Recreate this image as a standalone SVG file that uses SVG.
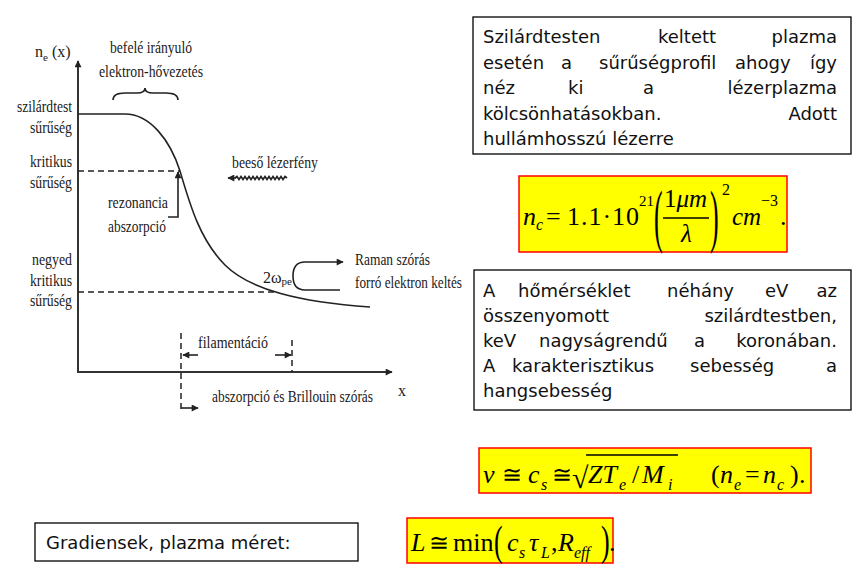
<svg xmlns="http://www.w3.org/2000/svg" width="868" height="581" viewBox="0 0 868 581">
<defs>
<style>
.lbl{font-family:"Liberation Serif","Times New Roman",serif;font-size:16px;fill:#1a1a1a}
.body{font-family:"DejaVu Sans",Verdana,sans-serif;font-size:18px;fill:#111}
.m{font-family:"Liberation Serif","DejaVu Serif",serif;fill:#000}
.i{font-style:italic}
.box{fill:#fff;stroke:#000;stroke-width:1.3}
.ybox{fill:#ffff00;stroke:#ff0000;stroke-width:1.5}
.ln{fill:none;stroke:#222;stroke-width:1.6}
.ax{fill:none;stroke:#333;stroke-width:2}
.dash{fill:none;stroke:#222;stroke-width:1.5;stroke-dasharray:6,4}
</style>
<marker id="ah" viewBox="0 0 10 10" refX="9" refY="5" markerWidth="8" markerHeight="7" orient="auto" markerUnits="userSpaceOnUse">
<path d="M0,0 L10,5 L0,10 z" fill="#222"/>
</marker>
</defs>
<rect width="868" height="581" fill="#fff"/>

<g id="connectors">
<line class="ax" x1="78" y1="373" x2="78" y2="61" marker-end="url(#ah)"/>
<line class="ax" x1="78" y1="372" x2="392" y2="372" marker-end="url(#ah)"/>
<path class="ln" stroke-width="1.8" d="M78,114 H125 C150,114 170,140 180,171 C190,205 200,240 225,265 C250,290 300,302 370,307"/>
<line class="dash" x1="78" y1="171" x2="180" y2="171"/>
<line class="dash" x1="78" y1="292" x2="274" y2="292"/>
<path class="ln" d="M168,217 H178 V172" marker-end="url(#ah)"/>
<path class="ln" stroke-width="1.3" d="M113,100 Q113,93 125,93 L137,93 Q145,93 145,88 Q145,93 153,93 L166,93 Q178,93 178,100"/>
<polyline class="ln" stroke-width="1.2" points="287,178 285,176.5 283,179.5 281,176.5 279,179.5 277,176.5 275,179.5 273,176.5 271,179.5 269,176.5 267,179.5 265,176.5 263,179.5 261,176.5 259,179.5 257,176.5 255,179.5 253,176.5 251,179.5 249,176.5 247,179.5 245,176.5 243,179.5 241,176.5 239,179.5 237,176.5 235,178"/>
<line class="ln" stroke-width="1.2" x1="236" y1="178" x2="228" y2="178" marker-end="url(#ah)"/>
<path class="ln" stroke-width="1.4" d="M340,290 L305,290 Q293,290 293,276 Q293,262 305,262 L343,262" marker-end="url(#ah)"/>
<line class="dash" stroke-width="1.3" x1="181" y1="333" x2="181" y2="413"/>
<line class="dash" stroke-width="1.3" x1="292" y1="340" x2="292" y2="372"/>
<line class="ln" stroke-width="1.3" x1="198" y1="355" x2="183" y2="355" marker-end="url(#ah)"/>
<line class="ln" stroke-width="1.3" x1="275" y1="355" x2="291" y2="355" marker-end="url(#ah)"/>
<line class="ln" stroke-width="1.3" x1="181" y1="408" x2="198" y2="408" marker-end="url(#ah)"/>
</g>

<g id="chart-labels">
<g id="y-axis-label"><text class="lbl" x="35" y="57" font-size="18">n<tspan font-size="11" dy="4">e</tspan><tspan dy="-4"> (x)</tspan></text></g>
<g id="lbl-szilardtest">
<text class="lbl" x="17" y="112" textLength="55" lengthAdjust="spacingAndGlyphs">szilárdtest</text>
<text class="lbl" x="30" y="133" textLength="42" lengthAdjust="spacingAndGlyphs">sűrűség</text>
</g>
<g id="lbl-kritikus">
<text class="lbl" x="30" y="167" textLength="42" lengthAdjust="spacingAndGlyphs">kritikus</text>
<text class="lbl" x="30" y="188" textLength="42" lengthAdjust="spacingAndGlyphs">sűrűség</text>
</g>
<g id="lbl-negyed">
<text class="lbl" x="32" y="265" textLength="40" lengthAdjust="spacingAndGlyphs">negyed</text>
<text class="lbl" x="30" y="286" textLength="42" lengthAdjust="spacingAndGlyphs">kritikus</text>
<text class="lbl" x="30" y="306" textLength="42" lengthAdjust="spacingAndGlyphs">sűrűség</text>
</g>
<g id="lbl-hovezetes">
<text class="lbl" x="110" y="53" textLength="82" lengthAdjust="spacingAndGlyphs">befelé irányuló</text>
<text class="lbl" x="99" y="77" textLength="104" lengthAdjust="spacingAndGlyphs">elektron-hővezetés</text>
</g>
<g id="lbl-lezerfeny"><text class="lbl" x="232" y="168" textLength="86" lengthAdjust="spacingAndGlyphs">beeső lézerfény</text></g>
<g id="lbl-rezonancia">
<text class="lbl" x="108" y="208" textLength="60" lengthAdjust="spacingAndGlyphs">rezonancia</text>
<text class="lbl" x="108" y="232" textLength="58" lengthAdjust="spacingAndGlyphs">abszorpció</text>
</g>
<g id="lbl-2wpe"><text class="lbl" x="263" y="283">2ω<tspan font-size="11" dy="2">pe</tspan></text></g>
<g id="lbl-raman">
<text class="lbl" x="355" y="265" textLength="75" lengthAdjust="spacingAndGlyphs">Raman szórás</text>
<text class="lbl" x="355" y="288" textLength="107" lengthAdjust="spacingAndGlyphs">forró elektron keltés</text>
</g>
<g id="lbl-filamentacio"><text class="lbl" x="198" y="348" textLength="70" lengthAdjust="spacingAndGlyphs">filamentáció</text></g>
<g id="lbl-brillouin"><text class="lbl" x="212" y="402" textLength="161" lengthAdjust="spacingAndGlyphs">abszorpció és Brillouin szórás</text></g>
<g id="lbl-x"><text class="lbl" x="398" y="396" font-size="18">x</text></g>
</g>

<g id="box-surusegprofil">
<rect class="box" x="473" y="17" width="378" height="137"/>
<text class="body" x="483" y="43">Szilárdtesten</text>
<text class="body" x="658" y="43">keltett</text>
<text class="body" x="837" y="43" text-anchor="end">plazma</text>
<text class="body" x="483" y="68.5">esetén</text>
<text class="body" x="561" y="68.5">a</text>
<text class="body" x="599" y="68.5">sűrűségprofil</text>
<text class="body" x="735" y="68.5">ahogy</text>
<text class="body" x="837" y="68.5" text-anchor="end">így</text>
<text class="body" x="483" y="94">néz</text>
<text class="body" x="568" y="94">ki</text>
<text class="body" x="643" y="94">a</text>
<text class="body" x="837" y="94" text-anchor="end">lézerplazma</text>
<text class="body" x="483" y="119.5">kölcsönhatásokban.</text>
<text class="body" x="837" y="119.5" text-anchor="end">Adott</text>
<text class="body" x="483" y="145">hullámhosszú lézerre</text>
</g>

<g id="formula-nc">
<rect class="ybox" x="519" y="176" width="268" height="76"/>
<text class="m i" x="523" y="225" font-size="26">n</text>
<text class="m i" x="536" y="230" font-size="16">c</text>
<text class="m" x="546" y="225" font-size="26">=</text>
<text class="m" x="567" y="225" font-size="26" textLength="72" lengthAdjust="spacing">1.1·10</text>
<text class="m" x="639" y="206" font-size="15">21</text>
<text class="m" font-size="26" transform="translate(654,239) scale(1,2.7)">(</text>
<text class="m" x="664" y="207" font-size="25">1<tspan class="i">μm</tspan></text>
<line x1="663" y1="218" x2="709" y2="218" stroke="#000" stroke-width="1.3"/>
<text class="m i" x="681" y="242" font-size="25">λ</text>
<text class="m" font-size="26" transform="translate(710,239) scale(1,2.7)">)</text>
<text class="m" x="722" y="195" font-size="16">2</text>
<text class="m i" x="732" y="225" font-size="25">cm</text>
<text class="m" x="761" y="206" font-size="16">−3</text>
<text class="m" x="780" y="225" font-size="26">.</text>
</g>

<g id="box-homerseklet">
<rect class="box" x="474" y="270" width="377" height="140"/>
<text class="body" x="483" y="297">A</text>
<text class="body" x="518" y="297">hőmérséklet</text>
<text class="body" x="667" y="297">néhány</text>
<text class="body" x="765" y="297">eV</text>
<text class="body" x="837" y="297" text-anchor="end">az</text>
<text class="body" x="483" y="322">összenyomott</text>
<text class="body" x="837" y="322" text-anchor="end">szilárdtestben,</text>
<text class="body" x="483" y="347">keV</text>
<text class="body" x="539" y="347">nagyságrendű</text>
<text class="body" x="694" y="347">a</text>
<text class="body" x="837" y="347" text-anchor="end">koronában.</text>
<text class="body" x="483" y="372">A</text>
<text class="body" x="512" y="372">karakterisztikus</text>
<text class="body" x="690" y="372">sebesség</text>
<text class="body" x="837" y="372" text-anchor="end">a</text>
<text class="body" x="483" y="397">hangsebesség</text>
</g>

<g id="formula-cs">
<rect class="ybox" x="479" y="448" width="332" height="45"/>
<text class="m i" x="483" y="483" font-size="26">v</text>
<text class="m" x="502" y="483" font-size="24">≅</text>
<text class="m i" x="528" y="483" font-size="26">c</text>
<text class="m i" x="541" y="490" font-size="16">s</text>
<text class="m" x="552" y="483" font-size="24">≅</text>
<text class="m" x="572" y="488" font-size="30">√</text>
<line x1="586" y1="455" x2="678" y2="455" stroke="#000" stroke-width="1.3"/>
<text class="m i" x="588" y="483" font-size="26">ZT</text>
<text class="m i" x="619" y="490" font-size="16">e</text>
<text class="m" x="632" y="483" font-size="26">/</text>
<text class="m i" x="642" y="483" font-size="26">M</text>
<text class="m i" x="668" y="490" font-size="16">i</text>
<text class="m" x="711" y="483" font-size="26">(</text>
<text class="m i" x="720" y="483" font-size="26">n</text>
<text class="m i" x="734" y="490" font-size="16">e</text>
<text class="m" x="745" y="483" font-size="26">=</text>
<text class="m i" x="763" y="483" font-size="26">n</text>
<text class="m i" x="777" y="490" font-size="16">c</text>
<text class="m" x="790" y="483" font-size="26">)</text>
<text class="m" x="799" y="483" font-size="26">.</text>
</g>

<g id="box-gradiensek">
<rect class="box" x="35" y="523" width="323" height="38"/>
<text class="body" x="46" y="549">Gradiensek, plazma méret:</text>
</g>

<g id="formula-L">
<rect class="ybox" x="407" y="518" width="206" height="45"/>
<text class="m i" x="411" y="551" font-size="26">L</text>
<text class="m" x="429" y="551" font-size="24">≅</text>
<text class="m" x="453" y="551" font-size="26">min</text>
<text class="m" font-size="26" transform="translate(494,555) scale(1,1.6)">(</text>
<text class="m i" x="507" y="551" font-size="26">c</text>
<text class="m i" x="519" y="558" font-size="16">s</text>
<text class="m i" x="529" y="551" font-size="26">τ</text>
<text class="m i" x="541" y="558" font-size="16">L</text>
<text class="m" x="551" y="551" font-size="26">,</text>
<text class="m i" x="558" y="551" font-size="26">R</text>
<text class="m i" x="574" y="558" font-size="16">eff</text>
<text class="m" font-size="26" transform="translate(601,555) scale(1,1.6)">)</text>
<text class="m" x="609" y="551" font-size="26">.</text>
</g>
</svg>
